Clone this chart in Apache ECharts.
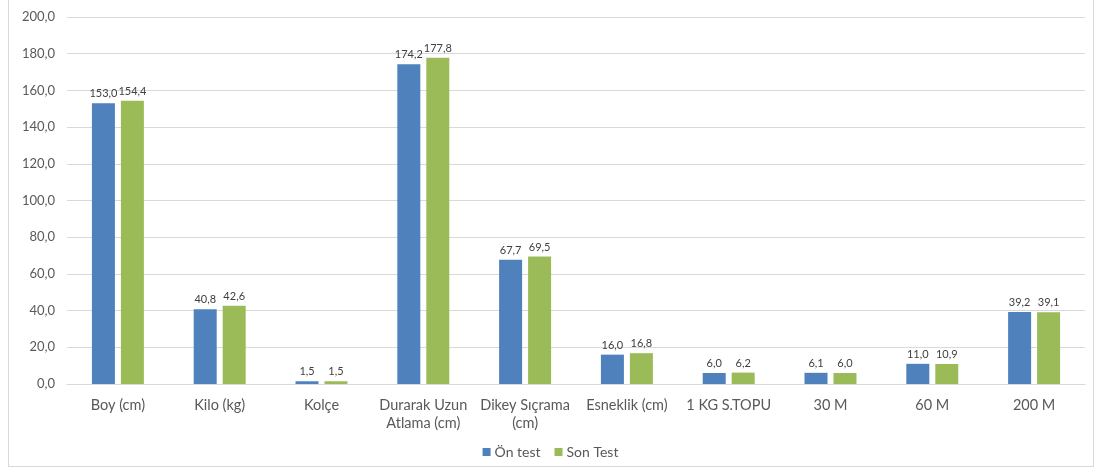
<!DOCTYPE html>
<html>
<head>
<meta charset="utf-8">
<script src="https://cdn.jsdelivr.net/npm/echarts@6/dist/echarts.min.js"></script>
<style>
  html, body { margin: 0; padding: 0; background: #fff; }
  #frame { position: absolute; left: 8px; top: -1px; width: 1086px; height: 468px; border: 1px solid #d9d9d9; box-sizing: border-box; }
  #chart { width: 1101px; height: 475px; }
</style>
</head>
<body>
<div id="frame"></div>
<div id="chart"></div>
<script>
const categories = ['Boy (cm)', 'Kilo (kg)', 'Kolçe', 'Durarak Uzun\nAtlama (cm)', 'Dikey Sıçrama\n(cm)', 'Esneklik (cm)', '1 KG S.TOPU', '30 M', '60 M', '200 M'];
const onTest = [153.0, 40.8, 1.5, 174.2, 67.7, 16.0, 6.0, 6.1, 11.0, 39.2];
const sonTest = [154.4, 42.6, 1.5, 177.8, 69.5, 16.8, 6.2, 6.0, 10.9, 39.1];
const yTicks = { min: 0, max: 200, interval: 20 };

const FONT = 'Lato, "Open Sans", sans-serif';
const fmt = v => v.toFixed(1).replace('.', ',');

const chart = echarts.init(document.getElementById('chart'), null, { renderer: 'canvas' });
const labelStyle = {
  show: true, position: 'top', distance: 4,
  color: '#404040', fontSize: 11, fontFamily: FONT,
  formatter: p => fmt(p.value)
};
chart.setOption({
  animation: false,
  textStyle: { fontFamily: FONT },
  grid: { left: 67, right: 16, top: 17, bottom: 91 },
  legend: {
    bottom: 11, left: 'center',
    itemWidth: 8, itemHeight: 8, itemGap: 14,
    icon: 'rect',
    textStyle: { color: '#595959', fontSize: 14, fontFamily: FONT, padding: [0, 0, 0, -1] },
    data: ['Ön test', 'Son Test']
  },
  xAxis: {
    type: 'category',
    data: categories,
    axisLine: { lineStyle: { color: '#d9d9d9' } },
    axisTick: { show: false },
    axisLabel: { color: '#595959', fontSize: 14.5, fontFamily: FONT, margin: 12, lineHeight: 18, interval: 0 }
  },
  yAxis: {
    type: 'value',
    min: yTicks.min, max: yTicks.max, interval: yTicks.interval,
    axisLine: { show: false },
    axisTick: { show: false },
    splitLine: { lineStyle: { color: '#d9d9d9' } },
    axisLabel: { color: '#595959', fontSize: 13, fontFamily: FONT, margin: 12, formatter: v => fmt(v) }
  },
  series: [
    { name: 'Ön test', type: 'bar', data: onTest, barWidth: 23, barGap: '26%',
      itemStyle: { color: '#4f81bd' }, label: labelStyle },
    { name: 'Son Test', type: 'bar', data: sonTest, barWidth: 23,
      itemStyle: { color: '#9bbb59' }, label: labelStyle }
  ]
});
</script>
</body>
</html>
